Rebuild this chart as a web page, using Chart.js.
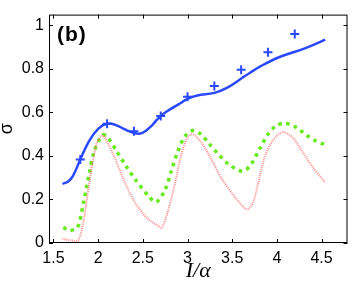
<!DOCTYPE html>
<html>
<head>
<meta charset="utf-8">
<script src="https://cdn.jsdelivr.net/npm/chart.js@4.4.1/dist/chart.umd.min.js"></script>
<style>
  html, body { margin: 0; padding: 0; background: #fff; }
  canvas { display: block; }
</style>
</head>
<body>
<canvas id="grafico" width="354" height="282"></canvas>
<script>
// valores
const xTicks = [1.5, 2, 2.5, 3, 3.5, 4, 4.5];
const yTicks = [0, 0.2, 0.4, 0.6, 0.8, 1];

// curva azul (linha continua)
const azulX = [1.60, 1.665, 1.72, 1.80, 1.90, 2.00, 2.10, 2.20, 2.30, 2.40, 2.47, 2.53, 2.60, 2.67, 2.75, 2.86, 2.93, 3.00, 3.11, 3.30, 3.44, 3.59, 3.70, 3.81, 4.03, 4.32, 4.54];
const azulY = [0.272, 0.283, 0.31, 0.384, 0.47, 0.525, 0.548, 0.542, 0.522, 0.506, 0.503, 0.515, 0.54, 0.572, 0.60, 0.628, 0.645, 0.663, 0.678, 0.69, 0.713, 0.753, 0.783, 0.811, 0.855, 0.896, 0.935];

// cruzes azuis
const cruzX = [1.8, 2.1, 2.4, 2.7, 3.0, 3.3, 3.6, 3.9, 4.2];
const cruzY = [0.384, 0.548, 0.514, 0.584, 0.672, 0.722, 0.797, 0.877, 0.961];

// curva verde (pontilhada grossa)
const verdeX = [1.61, 1.68, 1.77, 1.83, 1.90, 1.96, 2.05, 2.10, 2.21, 2.31, 2.42, 2.56, 2.65, 2.75, 2.82, 2.89, 2.97, 3.06, 3.15, 3.24, 3.35, 3.46, 3.61, 3.70, 3.81, 3.90, 3.99, 4.09, 4.21, 4.34, 4.43, 4.53];
const verdeY = [0.072, 0.058, 0.072, 0.174, 0.319, 0.427, 0.496, 0.49, 0.42, 0.355, 0.29, 0.217, 0.188, 0.246, 0.333, 0.42, 0.49, 0.517, 0.50, 0.457, 0.406, 0.362, 0.33, 0.355, 0.435, 0.50, 0.539, 0.551, 0.533, 0.493, 0.47, 0.453];

// curva vermelha (pontilhada fina)
const vermelhoX = [1.60, 1.70, 1.775, 1.83, 1.885, 1.94, 1.99, 2.05, 2.12, 2.20, 2.31, 2.42, 2.56, 2.67, 2.71, 2.78, 2.86, 2.93, 3.00, 3.06, 3.15, 3.26, 3.37, 3.52, 3.64, 3.68, 3.735, 3.79, 3.86, 3.955, 4.065, 4.175, 4.285, 4.39, 4.54];
const vermelhoY = [0.019, 0.012, 0.011, 0.087, 0.232, 0.377, 0.464, 0.493, 0.449, 0.377, 0.268, 0.181, 0.109, 0.08, 0.07, 0.145, 0.275, 0.406, 0.485, 0.50, 0.464, 0.391, 0.304, 0.217, 0.159, 0.157, 0.188, 0.275, 0.391, 0.471, 0.51, 0.485, 0.42, 0.355, 0.278];

function pares(xs, ys) {
  return xs.map((x, i) => ({ x: x, y: ys[i] }));
}

// moldura com marcas para dentro, no estilo do MATLAB
const molduraPlugin = {
  id: 'moldura',
  afterDraw(chart) {
    const { ctx, chartArea: a, scales } = chart;
    const tam = 4;
    ctx.save();
    ctx.strokeStyle = '#000';
    ctx.lineWidth = 1;
    ctx.strokeRect(a.left + 0.5, a.top + 0.5, a.right - a.left - 1, a.bottom - a.top - 1);
    ctx.beginPath();
    xTicks.forEach(v => {
      const px = Math.round(scales.x.getPixelForValue(v)) + 0.5;
      ctx.moveTo(px, a.bottom); ctx.lineTo(px, a.bottom - tam);
      ctx.moveTo(px, a.top); ctx.lineTo(px, a.top + tam);
    });
    yTicks.forEach(v => {
      const py = Math.round(scales.y.getPixelForValue(v)) + 0.5;
      ctx.moveTo(a.left, py); ctx.lineTo(a.left + tam, py);
      ctx.moveTo(a.right, py); ctx.lineTo(a.right - tam, py);
    });
    ctx.stroke();
    ctx.fillStyle = '#000';
    ctx.font = 'bold 21px "Liberation Sans", Arial, sans-serif';
    ctx.textBaseline = 'alphabetic';
    ctx.textAlign = 'left';
    ctx.letterSpacing = '1px';
    ctx.fillText('(b)', a.left + 8, a.top + 26);
    ctx.restore();
  }
};

const ctx = document.getElementById('grafico').getContext('2d');
new Chart(ctx, {
  type: 'scatter',
  data: {
    datasets: [
      {
        label: 'vermelho',
        data: pares(vermelhoX, vermelhoY),
        showLine: true,
        borderColor: 'rgba(255, 95, 95, 0.7)',
        borderWidth: 2,
        borderDash: [1, 1],
        pointRadius: 0,
        tension: 0.3
      },
      {
        label: 'verde',
        data: pares(verdeX, verdeY),
        showLine: true,
        borderColor: '#66ea1c',
        borderWidth: 3.5,
        borderDash: [3.5, 4.5],
        borderCapStyle: 'butt',
        pointRadius: 0,
        tension: 0.3
      },
      {
        label: 'azul',
        data: pares(azulX, azulY),
        showLine: true,
        borderColor: '#2a48ff',
        borderWidth: 2.5,
        pointRadius: 0,
        tension: 0.4
      },
      {
        label: 'cruzes',
        data: pares(cruzX, cruzY),
        showLine: false,
        pointStyle: 'cross',
        pointRadius: 4.5,
        pointBorderWidth: 2,
        pointBorderColor: '#2a48ff',
        pointBackgroundColor: '#2a48ff'
      }
    ]
  },
  options: {
    responsive: false,
    animation: false,
    devicePixelRatio: 1,
    layout: { padding: { top: 1, right: 2, left: 0, bottom: 0 } },
    plugins: {
      legend: { display: false },
      tooltip: { enabled: false }
    },
    scales: {
      x: {
        type: 'linear',
        min: 1.45,
        max: 4.79,
        afterBuildTicks: scale => { scale.ticks = xTicks.map(v => ({ value: v })); },
        afterFit: scale => { scale.height = 39; },
        grid: { display: false, drawTicks: false },
        border: { display: false },
        ticks: {
          padding: 6,
          color: '#000',
          font: { family: '"Liberation Sans", Arial, sans-serif', size: 16 },
          callback: v => String(v),
          maxRotation: 0
        },
        title: {
          display: true,
          text: 'I/α',
          color: '#000',
          padding: 0,
          font: { family: '"Liberation Serif", "Times New Roman", serif', style: 'italic', size: 22, lineHeight: 1 }
        }
      },
      y: {
        type: 'linear',
        min: 0,
        max: 1.05,
        afterBuildTicks: scale => { scale.ticks = yTicks.map(v => ({ value: v })); },
        afterFit: scale => { scale.width = 49; },
        grid: { display: false, drawTicks: false },
        border: { display: false },
        ticks: {
          padding: 5,
          color: '#000',
          font: { family: '"Liberation Sans", Arial, sans-serif', size: 16 },
          callback: v => String(v)
        },
        title: {
          display: true,
          text: 'σ',
          color: '#000',
          padding: 0,
          font: { family: '"Liberation Sans", Arial, sans-serif', size: 18, lineHeight: 0.78 }
        }
      }
    }
  },
  plugins: [molduraPlugin]
});
</script>
</body>
</html>
